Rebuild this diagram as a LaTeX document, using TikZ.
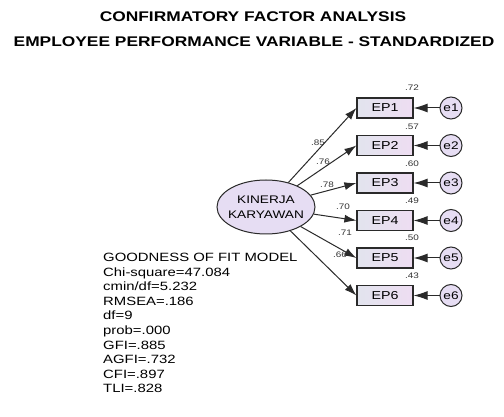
\documentclass[tikz,border=0pt]{standalone}
\usepackage{fontspec}
\setmainfont{Liberation Sans}[FakeStretch=1.24]
\usetikzlibrary{arrows.meta,shapes.geometric}
\definecolor{lineg}{HTML}{2A2A2A}
\definecolor{boxl}{HTML}{E2E4EE}
\definecolor{boxr}{HTML}{EEDDF2}
\definecolor{latf}{HTML}{E6DDF3}
\tikzset{
  obs/.style={draw=lineg, line width=1.2pt, rectangle, minimum width=56pt, minimum height=20pt,
    left color=boxl, right color=boxr, font=\fontsize{11.5}{12}\selectfont, inner sep=0pt},
  err/.style={draw=lineg, line width=1pt, circle, minimum size=22pt, inner sep=0pt,
    fill=latf, font=\fontsize{11}{12}\selectfont},
  lat/.style={draw=lineg, line width=1pt, ellipse, minimum width=98pt, minimum height=54pt,
    fill=latf, inner xsep=-12pt, inner ysep=0pt, align=center, font=\fontsize{11}{15}\selectfont},
  small/.style={font=\fontsize{8}{9}\selectfont, inner sep=0pt, text=black!80},
  arr/.style={draw=lineg, line width=1pt, -{Latex[length=12pt,width=8pt]}},
  earr/.style={draw=lineg, line width=1pt, -{Latex[length=14pt,width=9pt]}},
  ttl/.style={font=\fontsize{14}{16}\selectfont\bfseries, inner sep=0pt}
}
\begin{document}
\begin{tikzpicture}[x=1pt,y=-1pt]
\useasboundingbox (0,0) rectangle (504,417);
\fill[white] (0,0) rectangle (504,417);
\node[ttl] (t1) at (253,17) {CONFIRMATORY FACTOR ANALYSIS};
\node[ttl] (t2) at (254,42) {EMPLOYEE PERFORMANCE VARIABLE - STANDARDIZED};

\node[lat] (kk) at (266,207) {KINERJA\\KARYAWAN};

\foreach \i/\y in {1/108,2/145.5,3/183,4/220.5,5/258,6/295.5}{
  \node[obs] (ep\i) at (385,\y) {EP\i};
  \node[err] (e\i) at (451,\y) {e\i};
  \draw[earr] (e\i) -- (ep\i);
  \draw[arr] (kk) -- (ep\i.west);
}

\node[small] (r1) at (412,88) {.72};
\node[small] (r2) at (412,127) {.57};
\node[small] (r3) at (412,164) {.60};
\node[small] (r4) at (412,201) {.49};
\node[small] (r5) at (412,238) {.50};
\node[small] (r6) at (412,276) {.43};

\node[small] (l1) at (318,143) {.85};
\node[small] (l2) at (323,162) {.76};
\node[small] (l3) at (327,185) {.78};
\node[small] (l4) at (343,207) {.70};
\node[small] (l5) at (345,233) {.71};
\node[small] (l6) at (340,255) {.66};

\node[anchor=north west, inner sep=0pt, align=left, font=\fontsize{12}{14.6}\selectfont] (gof) at (103,253)
{GOODNESS OF FIT MODEL\\Chi-square=47.084\\cmin/df=5.232\\RMSEA=.186\\df=9\\prob=.000\\GFI=.885\\AGFI=.732\\CFI=.897\\TLI=.828};
\end{tikzpicture}
\end{document}
